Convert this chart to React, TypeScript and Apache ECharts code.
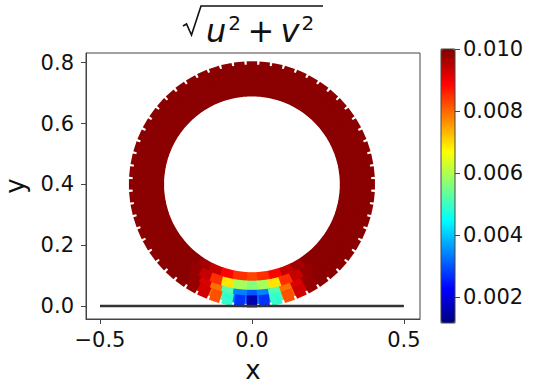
import React, { useEffect, useRef } from "react";
import * as echarts from "echarts";

// ring of particles: centre, layer radii and particle counts per layer
const ringCenter = [0, 0.4];
const layerRadii = [0.312, 0.34, 0.37, 0.385];
const layerCounts = [48, 54, 58, 60];
// speed of the particles closest to the contact point, per layer,
// index = number of particles away from the lowest particle of that layer
const layerBottomSpeeds = [
  [0.0083, 0.0085, 0.0089, 0.0094, 0.0097, 0.0099],
  [0.0056, 0.0059, 0.0069, 0.0085, 0.0094, 0.0098],
  [0.003, 0.0034, 0.0052, 0.0079, 0.0092, 0.0098],
  [0.0016, 0.0027, 0.0049, 0.0082, 0.0093, 0.0098],
];
const ringSpeed = 0.0099;

// wall
const groundX = [-0.5, 0.5];
const groundY = [0, 0];

// axes
const xTicks = [-0.5, 0, 0.5];
const yTicks = [0, 0.2, 0.4, 0.6, 0.8];
const cbTicks = [0.002, 0.004, 0.006, 0.008, 0.01];
const xRange = [-0.546, 0.553];
const yRange = [-0.043, 0.832];
const speedRange = [0.00116, 0.01];
const jetColors = [
  "#00007F",
  "#0000FF",
  "#007FFF",
  "#00FFFF",
  "#7FFF7F",
  "#FFFF00",
  "#FF7F00",
  "#FF0000",
  "#7F0000",
];

const FONT = "DejaVu Sans";
const TXT = "#111";

function buildParticles() {
  const out: any[] = [];
  const last = layerRadii.length - 1;
  layerRadii.forEach((r, li) => {
    const n = layerCounts[li];
    for (let k = 0; k < n; k++) {
      const a = -Math.PI / 2 + (2 * Math.PI * k) / n;
      const off = Math.min(k, n - k);
      const list = layerBottomSpeeds[li];
      const speed = off < list.length ? list[off] : ringSpeed;
      out.push({
        value: [ringCenter[0] + r * Math.cos(a), ringCenter[1] + r * Math.sin(a), speed],
        symbolRotate: (a * 180) / Math.PI,
        symbolSize: li === last ? [12, 10.5] : 14,
      });
    }
  });
  return out;
}

const fmtNum = (v: number, d: number) => (v < 0 ? "\u2212" : "") + Math.abs(v).toFixed(d);

export default function App() {
  const ref = useRef<HTMLDivElement>(null);
  useEffect(() => {
    if (!ref.current) return;
    const chart = echarts.init(ref.current, undefined, { renderer: "svg" });
    const labelStyle = { fontFamily: FONT, fontSize: 21, color: TXT };
    const option: any = {
      animation: false,
      backgroundColor: "#ffffff",
      grid: [
        {
          left: 86,
          top: 53,
          width: 334,
          height: 266,
          show: true,
          borderColor: "#444",
          borderWidth: 1,
          backgroundColor: "transparent",
          containLabel: false,
          outerBoundsMode: "none",
        },
        {
          left: 441,
          top: 49,
          width: 14,
          height: 274,
          show: true,
          borderColor: "#444",
          borderWidth: 1,
          backgroundColor: "transparent",
          z: 10,
          containLabel: false,
          outerBoundsMode: "none",
        },
      ],
      xAxis: [
        {
          type: "value",
          gridIndex: 0,
          min: xRange[0],
          max: xRange[1],
          name: "x",
          nameLocation: "middle",
          nameGap: 38,
          nameTextStyle: { fontFamily: FONT, fontSize: 26, color: TXT },
          axisLine: { show: true, onZero: false, lineStyle: { color: "#444", width: 1 } },
          axisTick: { show: true, customValues: xTicks, length: 5, lineStyle: { color: "#444" } },
          axisLabel: {
            ...labelStyle,
            customValues: xTicks,
            margin: 10,
            formatter: (v: number) => fmtNum(v, 1),
          },
          splitLine: { show: false },
        },
        { type: "value", gridIndex: 1, show: false, min: 0, max: 1 },
      ],
      yAxis: [
        {
          type: "value",
          gridIndex: 0,
          min: yRange[0],
          max: yRange[1],
          name: "y",
          nameLocation: "middle",
          nameGap: 58,
          nameRotate: 90,
          nameTextStyle: { fontFamily: FONT, fontSize: 26, color: TXT },
          axisLine: { show: true, onZero: false, lineStyle: { color: "#444", width: 1 } },
          axisTick: { show: true, customValues: yTicks, length: 5, lineStyle: { color: "#444" } },
          axisLabel: {
            ...labelStyle,
            customValues: yTicks,
            margin: 12,
            formatter: (v: number) => fmtNum(v, 1),
          },
          splitLine: { show: false },
        },
        {
          type: "value",
          gridIndex: 1,
          position: "right",
          min: speedRange[0],
          max: speedRange[1],
          axisLine: { show: false, onZero: false },
          axisTick: { show: true, customValues: cbTicks, length: 5, lineStyle: { color: "#444" } },
          axisLabel: {
            ...labelStyle,
            customValues: cbTicks,
            margin: 8,
            formatter: (v: number) => v.toFixed(3),
          },
          splitLine: { show: false },
        },
      ],
      visualMap: {
        type: "continuous",
        seriesIndex: 0,
        dimension: 2,
        min: speedRange[0],
        max: speedRange[1],
        inRange: { color: jetColors },
        show: true,
        orient: "vertical",
        left: 441,
        top: 49,
        itemWidth: 14,
        itemHeight: 274,
        padding: 0,
        calculable: false,
        hoverLink: false,
        realtime: false,
      },
      graphic: [
        {
          type: "polyline",
          shape: {
            points: [
              [183, 26],
              [186.5, 24],
              [191.5, 35],
              [201, 6],
              [323, 6],
            ],
          },
          style: { stroke: TXT, lineWidth: 1.6, fill: null, lineJoin: "miter" },
        },
        {
          type: "text",
          left: 206,
          top: 13,
          style: {
            text: "{i|u}{s|2}{n|\u2009+\u2009}{i|v}{s|2}",
            rich: {
              i: {
                fontFamily: FONT,
                fontSize: 32,
                fontStyle: "italic",
                fill: TXT,
                lineHeight: 34,
                verticalAlign: "bottom",
              },
              n: {
                fontFamily: FONT,
                fontSize: 32,
                fill: TXT,
                lineHeight: 34,
                verticalAlign: "bottom",
              },
              s: {
                fontFamily: FONT,
                fontSize: 20,
                fill: TXT,
                lineHeight: 22,
                verticalAlign: "top",
                padding: [0, 0, 0, 2],
              },
            },
          },
        },
      ],
      series: [
        {
          type: "scatter",
          xAxisIndex: 0,
          yAxisIndex: 0,
          symbol: "rect",
          data: buildParticles(),
          itemStyle: { opacity: 1 },
          z: 2,
        },
        {
          type: "line",
          xAxisIndex: 0,
          yAxisIndex: 0,
          data: groundX.map((x, i) => [x, groundY[i]]),
          symbol: "none",
          lineStyle: { color: "#333", width: 2.5 },
          z: 5,
        },
      ],
    };
    chart.setOption(option);
    return () => chart.dispose();
  }, []);
  return (
    <div
      ref={ref}
      style={{ position: "fixed", left: 0, top: 0, width: 538, height: 388 }}
    />
  );
}
